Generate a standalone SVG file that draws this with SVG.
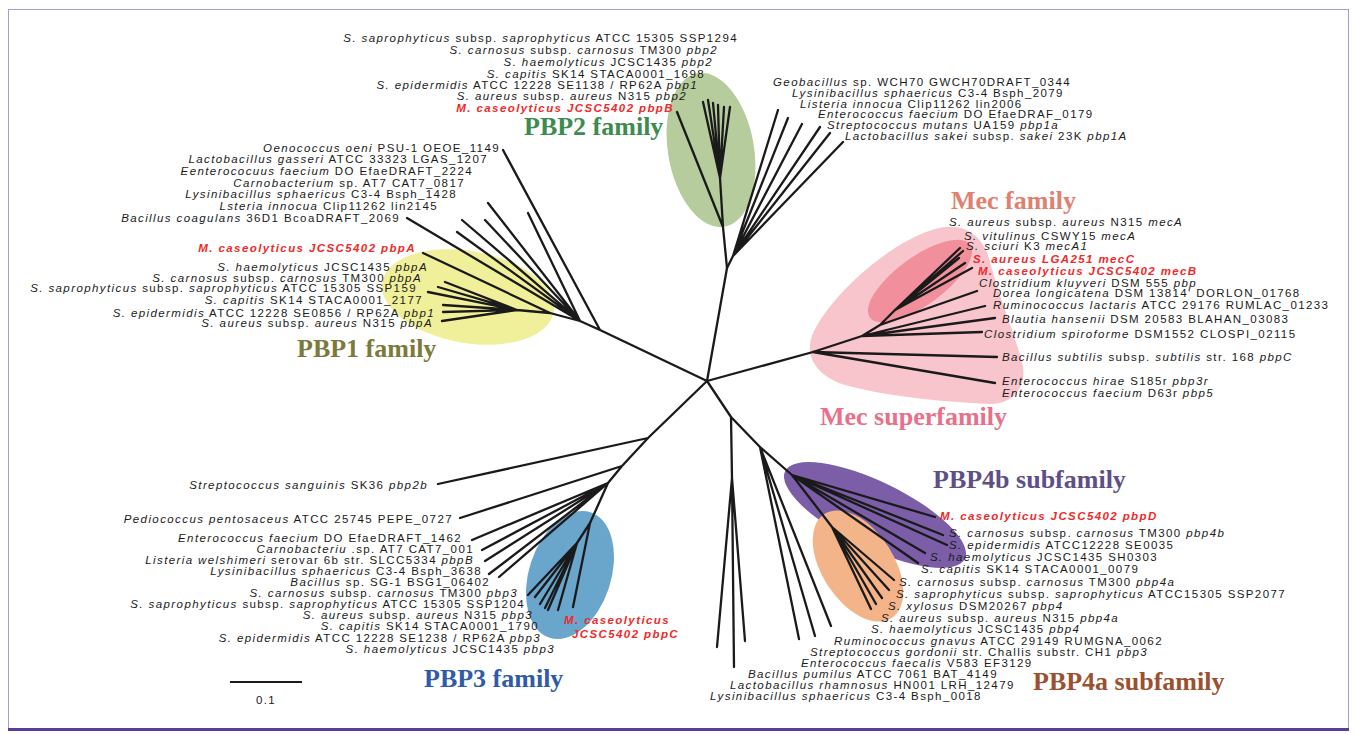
<svg xmlns="http://www.w3.org/2000/svg" width="1355" height="734" viewBox="0 0 1355 734">
<style>
.lb{font-family:"Liberation Sans",Arial,sans-serif;font-size:11.5px;letter-spacing:1.4px;fill:#1a1a1a}
.i{font-style:italic}
.r{fill:#ee2a2a;font-weight:bold}
.e{text-anchor:end}
.fam{font-family:"Liberation Serif","Times New Roman",serif;font-weight:bold;font-size:26px}
.br{fill:none;stroke:#1a1a1a;stroke-width:2.3;stroke-linecap:round;stroke-linejoin:round}
</style>
<rect x="0" y="0" width="1355" height="734" fill="#ffffff"/>
<rect x="8.5" y="9.5" width="1340" height="719" fill="none" stroke="#a89bd0" stroke-width="1"/>
<line x1="8" y1="729.5" x2="1349" y2="729.5" stroke="#5a3d96" stroke-width="3"/>

<g id="clade-shapes">
<ellipse id="pbp2-shade" cx="711" cy="150" rx="43" ry="78" transform="rotate(-10 711 150)" fill="#b6cc9c"/>
<ellipse id="pbp1-shade" cx="468" cy="297" rx="87" ry="46" transform="rotate(10 468 297)" fill="#f1f09a"/>
<path id="mecsuper-shade" d="M810,345 C812,315 880,245 935,229 C968,220 985,240 990,262 C1000,300 1015,335 1022,362 C1028,385 1015,404 990,404 C940,402 880,395 845,385 C822,378 808,362 810,345 Z" fill="#f8c5cc"/>
<ellipse id="mec-shade" cx="920" cy="281" rx="62" ry="24" transform="rotate(-36 920 281)" fill="#f1909c"/>
<ellipse id="pbp3-shade" cx="570" cy="575" rx="41" ry="66" transform="rotate(18 570 575)" fill="#6aa6cc"/>
<ellipse id="pbp4b-shade" cx="875" cy="515" rx="100" ry="33" transform="rotate(26 875 515)" fill="#7b5ea7"/>
<ellipse id="pbp4a-shade" cx="858" cy="566" rx="36" ry="62" transform="rotate(-33 858 566)" fill="#f4b48a"/>
</g>

<g id="connectors" class="br">
<path d="M707,381 L727,268 L723,227 L720,178 M720,178 L703,102 M720,178 L708,100 M720,178 L713,103 M720,178 L718,105 M720,178 L724,107 M720,178 L730,107 M723,227 L677,112"/>
<path d="M727,268 L733,256 M733,256 L778,110 M733,256 L788,118 M733,256 L802,124 M733,256 L820,127 M733,256 L830,133 M733,256 L843,142"/>
<path d="M707,381 L600,330 L503,150 M600,330 L580,321 M580,321 L528,213 M580,321 L488,203 M580,321 L485,220 M580,321 L462,220 M580,321 L457,232 M580,321 L407,218 M580,321 L550,313 L423,253 M550,313 L517,310 M517,310 L438,287 M517,310 L445,282 M517,310 L428,292 M517,310 L443,305 M517,310 L443,312 M517,310 L442,321"/>
<path d="M707,381 L813,352 M813,352 L995,383 M813,352 L997,357 M813,352 L862,336 M862,336 L982,332 M862,336 L995,318 M862,336 L985,306 M862,336 L880,325 M880,325 L977,291 M880,325 L895,310 M895,310 L960,248 M895,310 L963,251 M895,310 L959,258 M895,310 L965,263 M895,310 L972,268"/>
<path d="M707,381 L648,438 L622,466 L608,483 L590,523 L577,543 M648,438 L438,484 M622,466 L460,518 M608,483 L472,540 M608,483 L482,550 M608,483 L485,561 M608,483 L489,574 M608,483 L499,577 M590,523 L573,607 M577,543 L528,595 M577,543 L535,597 M577,543 L540,604 M577,543 L545,608 M577,543 L548,610 M577,543 L558,610"/>
<path d="M707,381 L731,417 L732,478 M732,478 L717,647 M732,478 L734,667 M732,478 L745,641 M731,417 L760,447 M760,447 L799,639 M760,447 L815,636 M760,447 L831,626 M760,447 L792,475 M792,475 L935,517 M792,475 L943,535 M792,475 L947,545 M792,475 L925,553 M792,475 L918,563 M792,475 L832,527 M832,527 L894,580 M832,527 L889,590 M832,527 L882,598 M832,527 L876,604 M832,527 L871,609"/>
</g>

<g id="pbp2-family" class="lb e">
<text id="t-sap-pbp2" x="738" y="42"><tspan class="i">S. saprophyticus</tspan> subsp. <tspan class="i">saprophyticus</tspan> ATCC 15305 SSP1294</text>
<text id="t-car-pbp2" x="718" y="54"><tspan class="i">S. carnosus</tspan> subsp. <tspan class="i">carnosus</tspan> TM300 <tspan class="i">pbp2</tspan></text>
<text id="t-hae-pbp2" x="713" y="66"><tspan class="i">S. haemolyticus</tspan> JCSC1435 <tspan class="i">pbp2</tspan></text>
<text id="t-cap-pbp2" x="705" y="78"><tspan class="i">S. capitis</tspan> SK14 STACA0001_1698</text>
<text id="t-epi-pbp1" x="698" y="89"><tspan class="i">S. epidermidis</tspan> ATCC 12228 SE1138 / RP62A <tspan class="i">pbp1</tspan></text>
<text id="t-aur-pbp2" x="687" y="100"><tspan class="i">S. aureus</tspan> subsp. <tspan class="i">aureus</tspan> N315 <tspan class="i">pbp2</tspan></text>
<text id="t-mca-pbpB" class="r i" x="674" y="112">M. caseolyticus JCSC5402 pbpB</text>
</g>
<text id="title-pbp2" class="fam" x="524" y="135" fill="#3d8b4e">PBP2 family</text>

<g id="pbp1a-group" class="lb">
<text id="t-geo" x="773" y="86"><tspan class="i">Geobacillus</tspan> sp. WCH70 GWCH70DRAFT_0344</text>
<text id="t-lys-2079" x="792" y="97"><tspan class="i">Lysinibacillus sphaericus</tspan> C3-4 Bsph_2079</text>
<text id="t-lis-2006" x="800" y="107.5"><tspan class="i">Listeria innocua</tspan> Clip11262 lin2006</text>
<text id="t-efa-0179" x="818" y="118"><tspan class="i">Enterococcus faecium</tspan> DO EfaeDRAF_0179</text>
<text id="t-smu" x="827" y="128.5"><tspan class="i">Streptococcus mutans</tspan> UA159 <tspan class="i">pbp1a</tspan></text>
<text id="t-lsa" x="845" y="139.5"><tspan class="i">Lactobacillus sakei</tspan> subsp. <tspan class="i">sakei</tspan> 23K <tspan class="i">pbp1A</tspan></text>
</g>

<g id="left-upper-group" class="lb e">
<text id="t-oen" x="500" y="152"><tspan class="i">Oenococcus oeni</tspan> PSU-1 OEOE_1149</text>
<text id="t-lga" x="488" y="163"><tspan class="i">Lactobacillus gasseri</tspan> ATCC 33323 LGAS_1207</text>
<text id="t-efa-2224" x="473" y="175"><tspan class="i">Eenterococuus faecium</tspan> DO EfaeDRAFT_2224</text>
<text id="t-car-0817" x="465" y="187"><tspan class="i">Carnobacterium</tspan> sp. AT7 CAT7_0817</text>
<text id="t-lys-1428" x="457" y="198"><tspan class="i">Lysinibacillus sphaericus</tspan> C3-4 Bsph_1428</text>
<text id="t-lis-2145" x="438" y="210"><tspan class="i">Lsteria innocua</tspan> Clip11262 lin2145</text>
<text id="t-bco" x="400" y="222"><tspan class="i">Bacillus coagulans</tspan> 36D1 BcoaDRAFT_2069</text>
</g>

<g id="pbp1-family" class="lb e">
<text id="t-mca-pbpA" class="r i" x="416" y="252">M. caseolyticus JCSC5402 pbpA</text>
<text id="t-hae-pbpA" x="428" y="271"><tspan class="i">S. haemolyticus</tspan> JCSC1435 <tspan class="i">pbpA</tspan></text>
<text id="t-car-pbpA" x="422" y="282"><tspan class="i">S. carnosus</tspan> subsp. <tspan class="i">carnosus</tspan> TM300 <tspan class="i">pbpA</tspan></text>
<text id="t-sap-159" x="417" y="292"><tspan class="i">S. saprophyticus</tspan> subsp. <tspan class="i">saprophyticus</tspan> ATCC 15305 SSP159</text>
<text id="t-cap-2177" x="423" y="304"><tspan class="i">S. capitis</tspan> SK14 STACA0001_2177</text>
<text id="t-epi-0856" x="435" y="317"><tspan class="i">S. epidermidis</tspan> ATCC 12228 SE0856 / RP62A <tspan class="i">pbp1</tspan></text>
<text id="t-aur-pbpA" x="433" y="327"><tspan class="i">S. aureus</tspan> subsp. <tspan class="i">aureus</tspan> N315 <tspan class="i">pbpA</tspan></text>
</g>
<text id="title-pbp1" class="fam" x="297" y="357" fill="#7b7a3a">PBP1 family</text>

<text id="title-mec" class="fam" x="951" y="209" fill="#e0806f">Mec family</text>
<g id="mec-group" class="lb">
<text id="t-aur-mecA" x="949" y="226"><tspan class="i">S. aureus</tspan> subsp. <tspan class="i">aureus</tspan> N315 <tspan class="i">mecA</tspan></text>
<text id="t-vit" x="964" y="240"><tspan class="i">S. vitulinus</tspan> CSWY15 <tspan class="i">mecA</tspan></text>
<text id="t-sci" x="966" y="250"><tspan class="i">S. sciuri</tspan> K3 <tspan class="i">mecA1</tspan></text>
<text id="t-aur-mecC" class="r i" x="973" y="263">S. aureus LGA251 mecC</text>
<text id="t-mca-mecB" class="r i" x="978" y="275">M. caseolyticus JCSC5402 mecB</text>
<text id="t-ckl" x="979" y="287"><tspan class="i">Clostridium kluyveri</tspan> DSM 555 <tspan class="i">pbp</tspan></text>
<text id="t-dor" x="993" y="297"><tspan class="i">Dorea longicatena</tspan> DSM 13814' DORLON_01768</text>
<text id="t-rum-lac" x="993" y="309"><tspan class="i">Ruminococcus lactaris</tspan> ATCC 29176 RUMLAC_01233</text>
<text id="t-bla" x="1002" y="323"><tspan class="i">Blautia hansenii</tspan> DSM 20583 BLAHAN_03083</text>
<text id="t-csp" x="984" y="338"><tspan class="i">Clostridium spiroforme</tspan> DSM1552 CLOSPI_02115</text>
<text id="t-bsu" x="1002" y="361"><tspan class="i">Bacillus subtilis</tspan> subsp. <tspan class="i">subtilis</tspan> str. 168 <tspan class="i">pbpC</tspan></text>
<text id="t-ehi" x="1002" y="385"><tspan class="i">Enterococcus hirae</tspan> S185r <tspan class="i">pbp3r</tspan></text>
<text id="t-efa-pbp5" x="1002" y="397"><tspan class="i">Enterococcus faecium</tspan> D63r <tspan class="i">pbp5</tspan></text>
</g>
<text id="title-mecsuper" class="fam" x="820" y="425" fill="#e8708a">Mec superfamily</text>

<g id="pbp3-family" class="lb e">
<text id="t-ssa" x="428" y="489"><tspan class="i">Streptococcus sanguinis</tspan> SK36 <tspan class="i">pbp2b</tspan></text>
<text id="t-ppe" x="453" y="523"><tspan class="i">Pediococcus pentosaceus</tspan> ATCC 25745 PEPE_0727</text>
<text id="t-efa-1462" x="462" y="541.5"><tspan class="i">Enterococcus faecium</tspan> DO EfaeDRAFT_1462</text>
<text id="t-car-001" x="474" y="552.5"><tspan class="i">Carnobacteriu</tspan> .sp. AT7 CAT7_001</text>
<text id="t-lwe" x="474" y="563.5"><tspan class="i">Listeria welshimeri</tspan> serovar 6b str. SLCC5334 <tspan class="i">pbpB</tspan></text>
<text id="t-lys-3638" x="482" y="574.5"><tspan class="i">Lysinibacillus sphaericus</tspan> C3-4 Bsph_3638</text>
<text id="t-bsg" x="490" y="586"><tspan class="i">Bacillus</tspan> sp. SG-1 BSG1_06402</text>
<text id="t-car-pbp3" x="518" y="597"><tspan class="i">S. carnosus</tspan> subsp. <tspan class="i">carnosus</tspan> TM300 <tspan class="i">pbp3</tspan></text>
<text id="t-sap-1204" x="525" y="608"><tspan class="i">S. saprophyticus</tspan> subsp. <tspan class="i">saprophyticus</tspan> ATCC 15305 SSP1204</text>
<text id="t-aur-pbp3" x="533" y="619"><tspan class="i">S. aureus</tspan> subsp. <tspan class="i">aureus</tspan> N315 <tspan class="i">pbp3</tspan></text>
<text id="t-cap-1790" x="539" y="630"><tspan class="i">S. capitis</tspan> SK14 STACA0001_1790</text>
<text id="t-epi-1238" x="541" y="642"><tspan class="i">S. epidermidis</tspan> ATCC 12228 SE1238 / RP62A <tspan class="i">pbp3</tspan></text>
<text id="t-hae-pbp3" x="555" y="653"><tspan class="i">S. haemolyticus</tspan> JCSC1435 <tspan class="i">pbp3</tspan></text>
</g>
<g id="t-mca-pbpC" class="lb r i">
<text x="564" y="624">M. caseolyticus</text>
<text x="572" y="638">JCSC5402 pbpC</text>
</g>
<text id="title-pbp3" class="fam" x="424" y="687" fill="#2f5ba8">PBP3 family</text>

<text id="title-pbp4b" class="fam" x="933" y="488" fill="#5e4f88">PBP4b subfamily</text>
<g id="pbp4-family" class="lb">
<text id="t-mca-pbpD" class="r i" x="940" y="520">M. caseolyticus JCSC5402 pbpD</text>
<text id="t-car-pbp4b" x="949" y="537"><tspan class="i">S. carnosus</tspan> subsp. <tspan class="i">carnosus</tspan> TM300 <tspan class="i">pbp4b</tspan></text>
<text id="t-epi-0035" x="949" y="549"><tspan class="i">S. epidermidis</tspan> ATCC12228 SE0035</text>
<text id="t-hae-0303" x="930" y="561"><tspan class="i">S. haemolyticus</tspan> JCSC1435 SH0303</text>
<text id="t-cap-0079" x="921" y="573"><tspan class="i">S. capitis</tspan> SK14 STACA0001_0079</text>
<text id="t-car-pbp4a" x="899" y="586"><tspan class="i">S. carnosus</tspan> subsp. <tspan class="i">carnosus</tspan> TM300 <tspan class="i">pbp4a</tspan></text>
<text id="t-sap-2077" x="896" y="598"><tspan class="i">S. saprophyticus</tspan> subsp. <tspan class="i">saprophyticus</tspan> ATCC15305 SSP2077</text>
<text id="t-xyl" x="888" y="610"><tspan class="i">S. xylosus</tspan> DSM20267 <tspan class="i">pbp4</tspan></text>
<text id="t-aur-pbp4a" x="881" y="622"><tspan class="i">S. aureus</tspan> subsp. <tspan class="i">aureus</tspan> N315 <tspan class="i">pbp4a</tspan></text>
<text id="t-hae-pbp4" x="871" y="633"><tspan class="i">S. haemolyticus</tspan> JCSC1435 <tspan class="i">pbp4</tspan></text>
<text id="t-rgn" x="834" y="645"><tspan class="i">Ruminococcus gnavus</tspan> ATCC 29149 RUMGNA_0062</text>
<text id="t-sgo" x="810" y="656"><tspan class="i">Streptococcus gordonii</tspan> str. Challis substr. CH1 <tspan class="i">pbp3</tspan></text>
<text id="t-efc" x="801" y="667"><tspan class="i">Enterococcus faecalis</tspan> V583 EF3129</text>
<text id="t-bpu" x="748" y="678"><tspan class="i">Bacillus pumilus</tspan> ATCC 7061 BAT_4149</text>
<text id="t-lrh" x="730" y="689"><tspan class="i">Lactobacillus rhamnosus</tspan> HN001 LRH_12479</text>
<text id="t-lys-0018" x="710" y="700"><tspan class="i">Lysinibacillus sphaericus</tspan> C3-4 Bsph_0018</text>
</g>
<text id="title-pbp4a" class="fam" x="1033" y="690" fill="#9b5030">PBP4a subfamily</text>

<g id="scale-bar">
<line x1="230" y1="682" x2="302" y2="682" stroke="#1a1a1a" stroke-width="2"/>
<text class="lb" x="266" y="704" text-anchor="middle">0.1</text>
</g>
</svg>
